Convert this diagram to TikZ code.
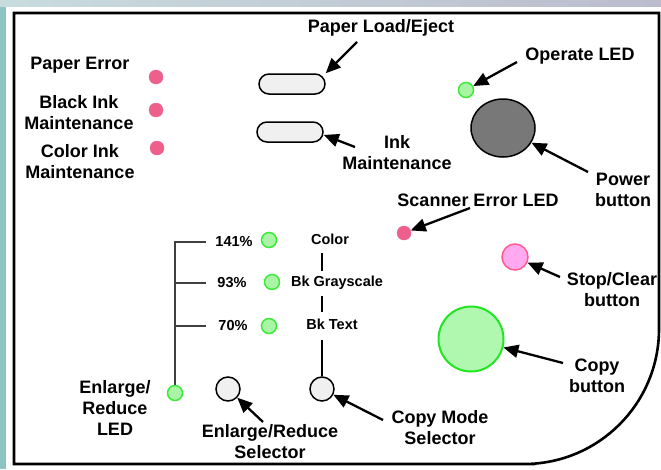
\documentclass[tikz,border=0pt]{standalone}
\usepackage{fontspec}
\setmainfont{Liberation Sans}
\usetikzlibrary{shapes.geometric, arrows.meta}
\definecolor{ledpink}{RGB}{238,96,140}
\definecolor{ledgreen}{RGB}{170,245,165}
\definecolor{ledgreenline}{RGB}{60,235,60}
\definecolor{copyfill}{RGB}{176,248,176}
\definecolor{copyline}{RGB}{34,230,34}
\definecolor{stopfill}{RGB}{255,170,240}
\definecolor{stopline}{RGB}{255,92,140}
\definecolor{powergray}{RGB}{120,120,120}
\definecolor{btnfill}{RGB}{240,240,240}
\definecolor{stripteal}{RGB}{140,196,192}
\definecolor{stripa}{RGB}{200,220,222}
\definecolor{stripb}{RGB}{160,162,184}
\definecolor{stripc}{RGB}{188,188,204}
\newcommand{\panelfont}{\fontsize{18}{21}\selectfont\bfseries}
\newcommand{\minifont}{\fontsize{14.5}{17}\selectfont\bfseries}
\tikzstyle{txt} = [font=\panelfont, align=center, inner sep=1pt]
\tikzstyle{smalltxt} = [font=\minifont, inner sep=1pt]
\tikzstyle{pinkled} = [circle, draw=ledpink, fill=ledpink, minimum size=14pt, inner sep=0pt]
\tikzstyle{greenled} = [circle, draw=ledgreenline, fill=ledgreen, line width=1.5pt, minimum size=15pt, inner sep=0pt]
\tikzstyle{pill} = [rectangle, rounded corners=10pt, draw=black, line width=1.5pt, fill=btnfill, minimum width=66pt, minimum height=20pt]
\tikzstyle{selector} = [circle, draw=black, line width=1.5pt, fill=btnfill, minimum size=24pt, inner sep=0pt]
\tikzstyle{arrow} = [line width=2.3pt, -{Triangle[length=15pt,width=13pt]}]
\tikzstyle{brackline} = [line width=2pt, draw=black!75]
\tikzstyle{modeline} = [line width=2pt]
\tikzstyle{outline} = [line width=2.6pt]

\begin{document}
\begin{tikzpicture}[x=1pt, y=-1pt]
\useasboundingbox (0,0) rectangle (661,469);

% Background
\fill[white] (0,0) rectangle (661,469);
\fill[stripteal] (0,0) rectangle (6,469);
\shade[left color=stripa, middle color=stripb, right color=stripc] (0,0) rectangle (661,6);
\draw[outline] (14,13) -- (659,13) -- (659,300) [rounded corners=135pt] -- (659,464) -- (400,464) [sharp corners] -- (14,464) -- cycle;

% Nodes
\node (papertxt) [txt] at (80,65) {Paper Error};
\node (blacktxt) [txt] at (79,113) {Black Ink\\Maintenance};
\node (colortxt) [txt] at (80,162) {Color Ink\\Maintenance};
\node (errled1) [pinkled] at (156,77) {};
\node (errled2) [pinkled] at (156,110) {};
\node (errled3) [pinkled] at (157,148) {};

\node (loadtxt) [txt] at (381,28) {Paper Load/Eject};
\node (loadbtn) [pill] at (292,84) {};
\node (inkbtn) [pill] at (290,132) {};
\node (inktxt) [txt] at (397,153) {Ink\\Maintenance};

\node (optxt) [txt] at (580,56) {Operate LED};
\node (opled) [greenled] at (466,90) {};
\node (power) [ellipse, draw=black, line width=1.5pt, fill=powergray, minimum width=64pt, minimum height=58pt] at (503,128) {};
\node (powertxt) [txt] at (623,190) {Power\\button};

\node (scantxt) [txt] at (478,200) {Scanner Error LED};
\node (scanled) [pinkled] at (404,233) {};
\node (stopbtn) [circle, draw=stopline, fill=stopfill, line width=1.5pt, minimum size=26pt] at (515,257) {};
\node (stoptxt) [txt] at (612,290) {Stop/Clear\\button};
\node (copybtn) [circle, draw=copyline, fill=copyfill, line width=2pt, minimum size=65pt] at (471,339) {};
\node (copytxt) [txt] at (597,376) {Copy\\button};

\node (pct141) [smalltxt] at (234,242) {141\%};
\node (pct93) [smalltxt] at (232,283) {93\%};
\node (pct70) [smalltxt] at (233,326) {70\%};
\node (led141) [greenled] at (269,240) {};
\node (led93) [greenled] at (272,282) {};
\node (led70) [greenled] at (269,326) {};
\node (mcolor) [smalltxt] at (330,239) {Color};
\node (mgray) [smalltxt] at (337,283) {Bk Grayscale};
\node (mtext) [smalltxt] at (332,324) {Bk Text};

\node (enled) [greenled] at (175,393) {};
\node (enledtxt) [txt] at (115,408) {Enlarge/\\Reduce\\LED};
\node (ensel) [selector] at (228,389) {};
\node (enseltxt) [txt] at (270,442) {Enlarge/Reduce\\Selector};
\node (selmode) [selector] at (322,389) {};
\node (modetxt) [txt] at (440,428) {Copy Mode\\Selector};

% Arrow tails
\coordinate (loadtail) at (357,42);
\coordinate (inktail) at (355,147);
\coordinate (optail) at (517,62);
\coordinate (powertail) at (588,172);
\coordinate (scantail) at (470,208);
\coordinate (stoptail) at (560,277);
\coordinate (copytail) at (563,363);
\coordinate (enseltail) at (263,422);
\coordinate (modetail) at (383,420);

% Lines
\draw [brackline, shorten >=8.5pt] (enled) |- (pct141.west);
\draw [brackline, shorten >=10.5pt] (enled) |- (pct93.west);
\draw [brackline, shorten >=11.5pt] (enled) |- (pct70.west);
\draw [modeline, shorten <=7pt, shorten >=4pt] (mcolor.south -| selmode) -- (mgray.north -| selmode);
\draw [modeline, shorten <=5pt, shorten >=5pt] (mgray.south -| selmode) -- (mtext.north -| selmode);
\draw [modeline, shorten <=9pt] (mtext.south -| selmode) -- (selmode);

% Arrows
\draw [arrow] (loadtail) -- (loadbtn.north east);
\draw [arrow] (inktail) -- (inkbtn.-5);
\draw [arrow] (optail) -- (opled);
\draw [arrow] (powertail) -- (power);
\draw [arrow] (scantail) -- (scanled);
\draw [arrow] (stoptail) -- (stopbtn);
\draw [arrow] (copytail) -- (copybtn);
\draw [arrow] (enseltail) -- (ensel);
\draw [arrow] (modetail) -- (selmode);

\end{tikzpicture}
\end{document}
